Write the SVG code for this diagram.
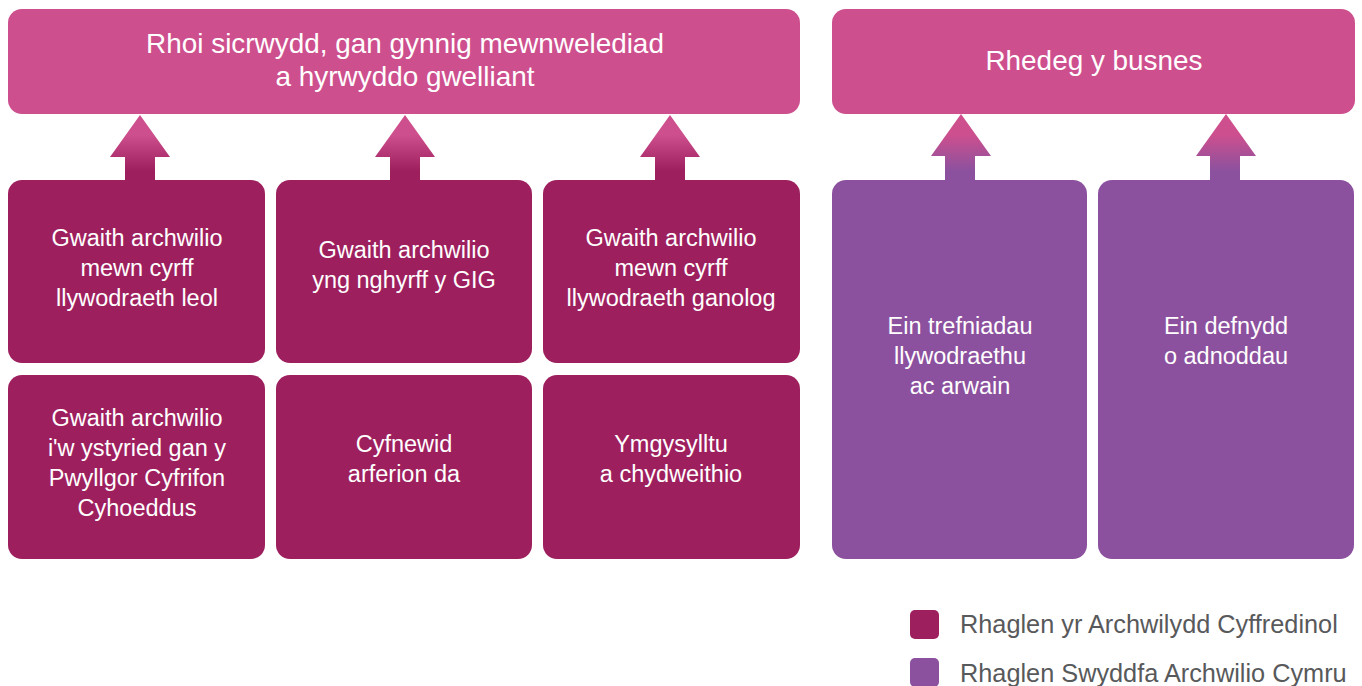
<svg xmlns="http://www.w3.org/2000/svg" width="1362" height="686" viewBox="0 0 1362 686">
<style>
.pink{fill:#ce4f8e}
.mag{fill:#9e1f5e}
.pur{fill:#8c519e}
text{font-family:"Liberation Sans",Arial,sans-serif;text-anchor:middle;fill:#ffffff}
.t{font-size:27.9px}
.b{font-size:23.5px}
.leg{font-size:25.3px;fill:#58595b;text-anchor:start}
</style>
<defs>
<linearGradient id="gm" x1="0" y1="0" x2="0" y2="1">
<stop offset="0.3" stop-color="#ce4f8e"/>
<stop offset="0.85" stop-color="#9e1f5e"/>
</linearGradient>
<linearGradient id="gp" x1="0" y1="0" x2="0" y2="1">
<stop offset="0.3" stop-color="#ce4f8e"/>
<stop offset="0.85" stop-color="#8c519e"/>
</linearGradient>
</defs>
<g id="connectors">
<path fill="url(#gm)" d="M140 115 L170 157 L155 157 L155 181 L125 181 L125 157 L110 157 Z"/>
<path fill="url(#gm)" d="M405 115 L435 157 L420 157 L420 181 L390 181 L390 157 L375 157 Z"/>
<path fill="url(#gm)" d="M670 115 L700 157 L685 157 L685 181 L655 181 L655 157 L640 157 Z"/>
<path fill="url(#gp)" d="M961 114 L991 156 L975 156 L975 181 L945 181 L945 156 L931 156 Z"/>
<path fill="url(#gp)" d="M1226 114 L1256 156 L1240 156 L1240 181 L1210 181 L1210 156 L1196 156 Z"/>
</g>
<g id="top-left">
<rect class="pink" x="8" y="9" width="792" height="105" rx="14"/>
<text class="t" x="405" y="53">Rhoi sicrwydd, gan gynnig mewnwelediad</text>
<text class="t" x="405" y="86">a hyrwyddo gwelliant</text>
</g>
<g id="top-right">
<rect class="pink" x="832" y="9" width="523" height="105" rx="14"/>
<text class="t" x="1094" y="70">Rhedeg y busnes</text>
</g>
<g id="box1">
<rect class="mag" x="8" y="180" width="257" height="183" rx="14"/>
<text class="b" x="137" y="246">Gwaith archwilio</text>
<text class="b" x="137" y="276">mewn cyrff</text>
<text class="b" x="137" y="306">llywodraeth leol</text>
</g>
<g id="box2">
<rect class="mag" x="276" y="180" width="256" height="183" rx="14"/>
<text class="b" x="404" y="258">Gwaith archwilio</text>
<text class="b" x="404" y="288">yng nghyrff y GIG</text>
</g>
<g id="box3">
<rect class="mag" x="543" y="180" width="257" height="183" rx="14"/>
<text class="b" x="671" y="246">Gwaith archwilio</text>
<text class="b" x="671" y="276">mewn cyrff</text>
<text class="b" x="671" y="306">llywodraeth ganolog</text>
</g>
<g id="box4">
<rect class="mag" x="8" y="375" width="257" height="184" rx="14"/>
<text class="b" x="137" y="426">Gwaith archwilio</text>
<text class="b" x="137" y="456">i'w ystyried gan y</text>
<text class="b" x="137" y="486">Pwyllgor Cyfrifon</text>
<text class="b" x="137" y="516">Cyhoeddus</text>
</g>
<g id="box5">
<rect class="mag" x="276" y="375" width="256" height="184" rx="14"/>
<text class="b" x="404" y="452">Cyfnewid</text>
<text class="b" x="404" y="482">arferion da</text>
</g>
<g id="box6">
<rect class="mag" x="543" y="375" width="257" height="184" rx="14"/>
<text class="b" x="671" y="452">Ymgysylltu</text>
<text class="b" x="671" y="482">a chydweithio</text>
</g>
<g id="box7">
<rect class="pur" x="832" y="180" width="255" height="379" rx="14"/>
<text class="b" x="960" y="334">Ein trefniadau</text>
<text class="b" x="960" y="364">llywodraethu</text>
<text class="b" x="960" y="394">ac arwain</text>
</g>
<g id="box8">
<rect class="pur" x="1098" y="180" width="256" height="379" rx="14"/>
<text class="b" x="1226" y="334">Ein defnydd</text>
<text class="b" x="1226" y="364">o adnoddau</text>
</g>
<g id="legend">
<rect class="mag" x="910" y="610" width="29" height="29" rx="5"/>
<text class="leg" x="960" y="633">Rhaglen yr Archwilydd Cyffredinol</text>
<rect class="pur" x="910" y="658" width="29" height="29" rx="5"/>
<text class="leg" x="960" y="682">Rhaglen Swyddfa Archwilio Cymru</text>
</g>
</svg>
